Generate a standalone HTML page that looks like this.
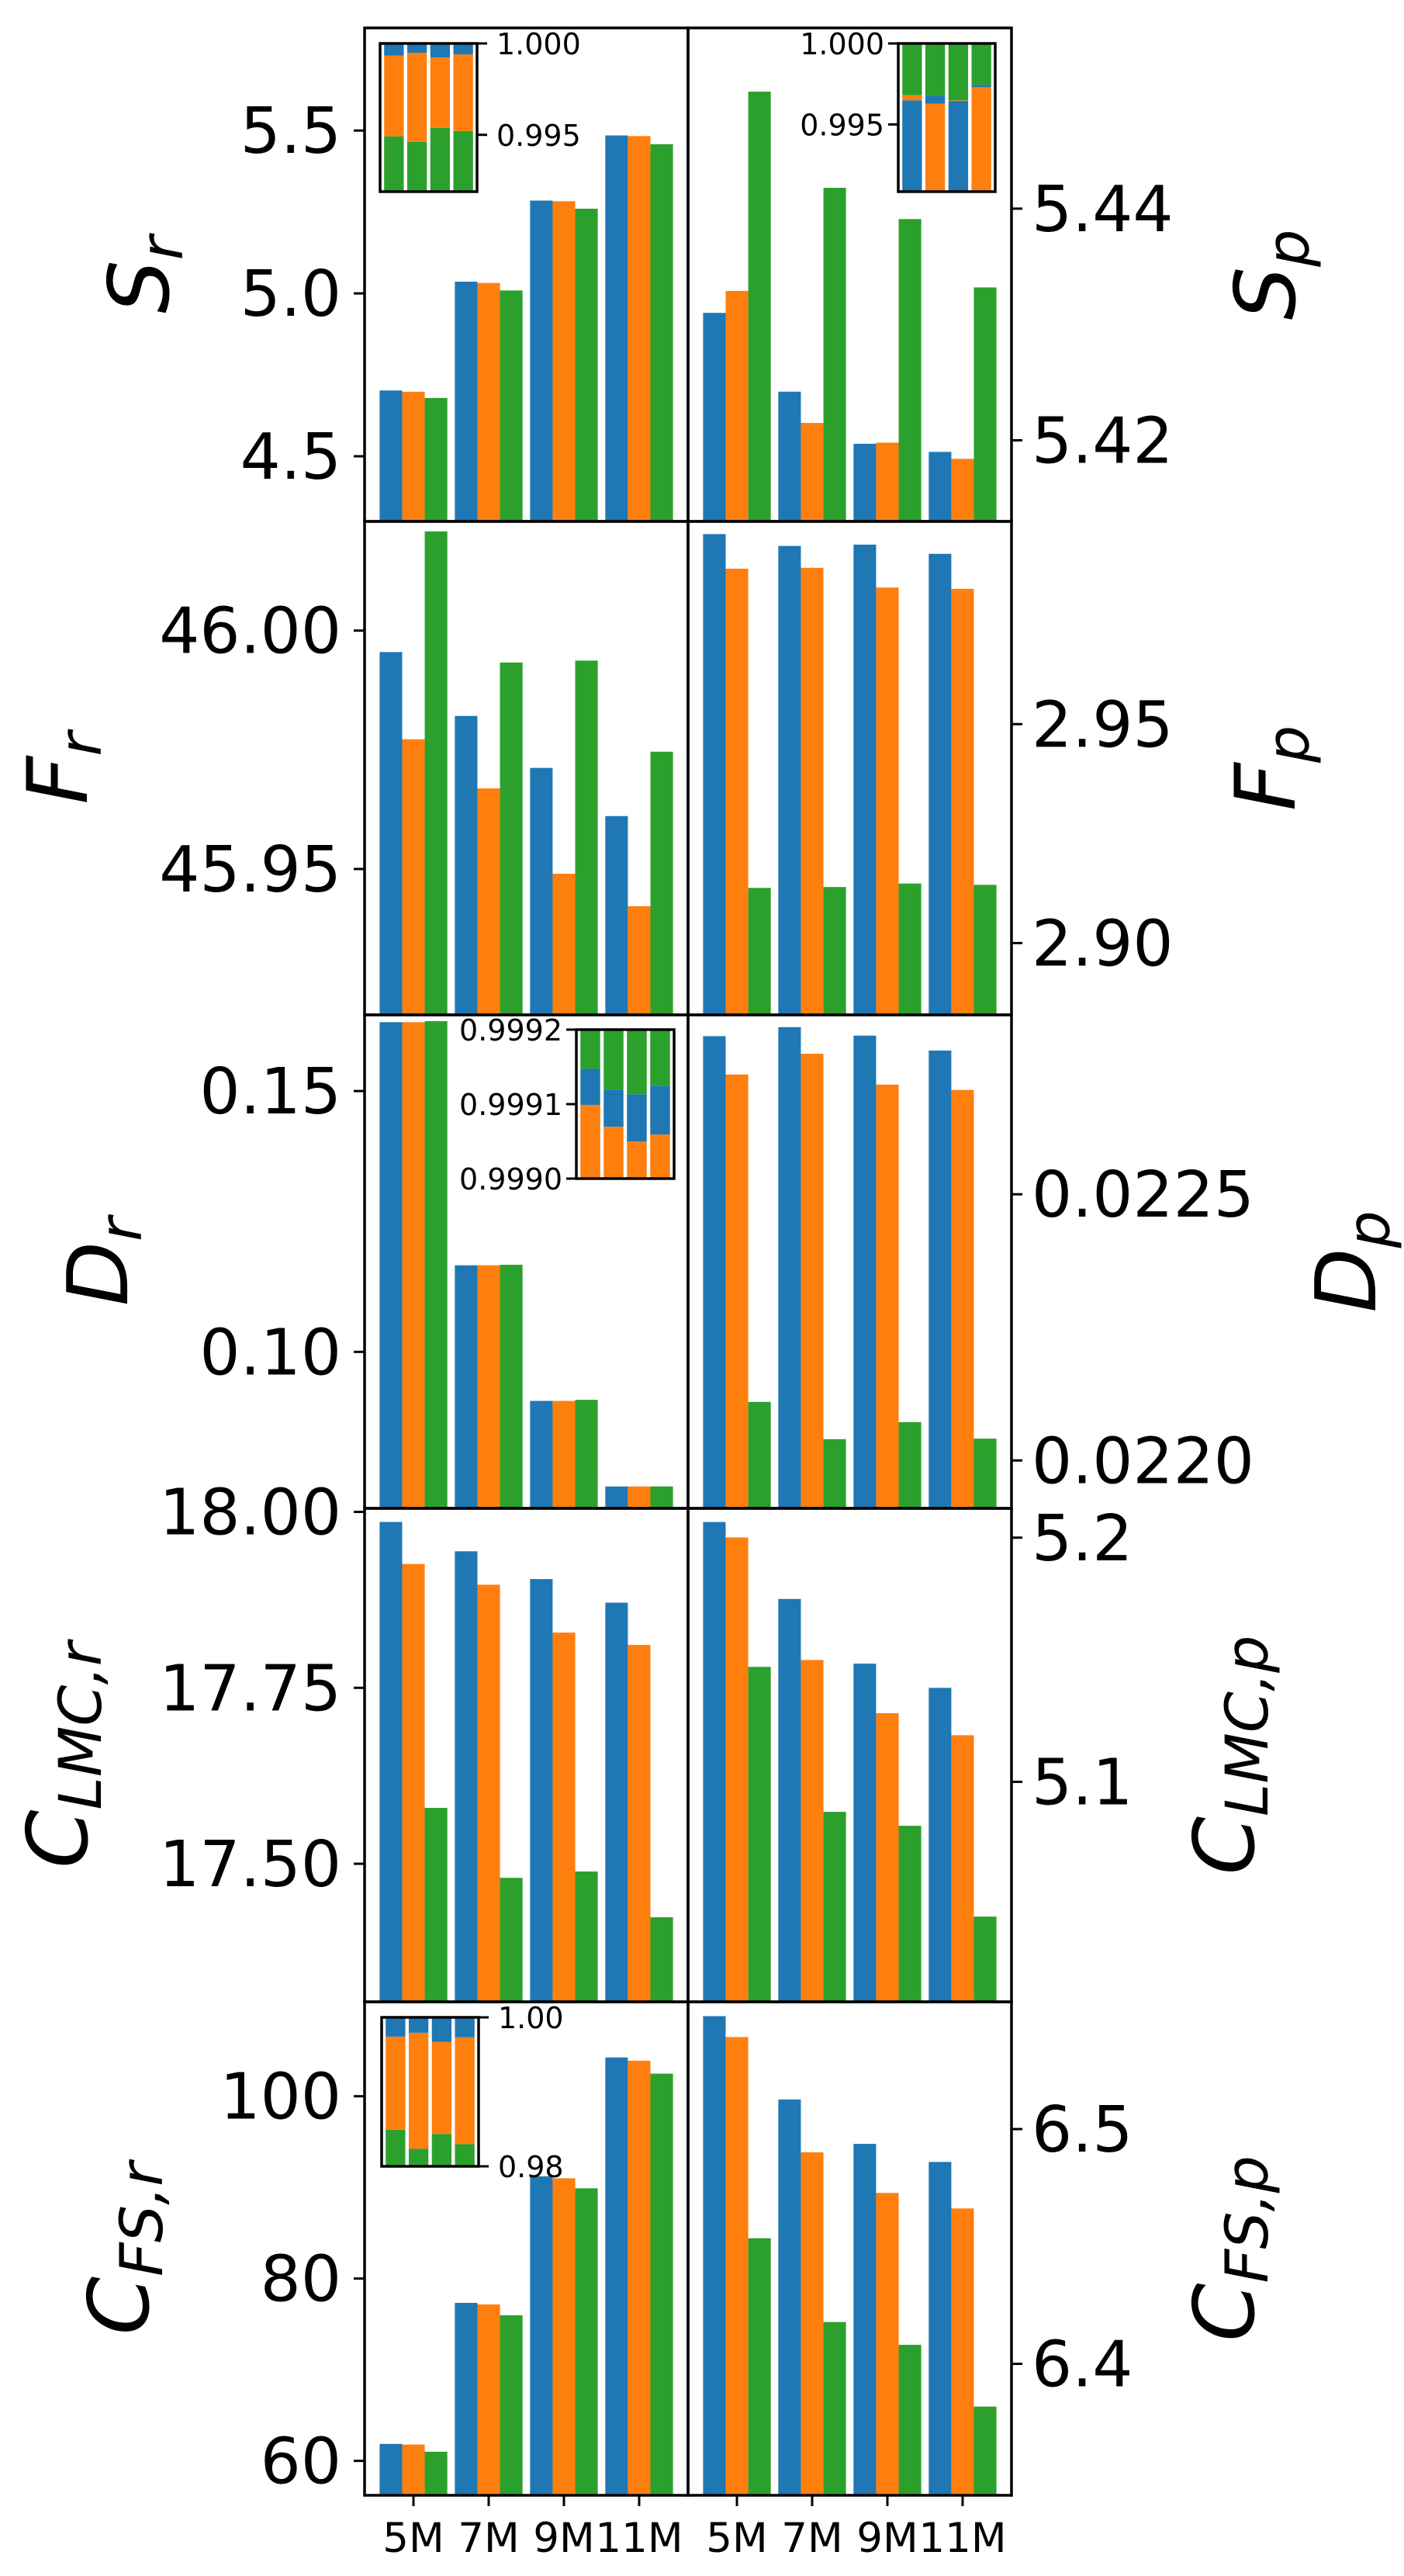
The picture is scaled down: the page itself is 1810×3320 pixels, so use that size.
<!DOCTYPE html>
<html><head><meta charset="utf-8"><style>
html,body{margin:0;padding:0;background:#fff;width:1810px;height:3320px;overflow:hidden;position:relative;}
svg{display:block;position:absolute;left:0;top:0;font-family:"DejaVu Sans","Liberation Sans",sans-serif;}
</style></head><body><svg id="fig" xmlns="http://www.w3.org/2000/svg" width="1810" height="3320" viewBox="0 0 1810 3320"><rect x="0" y="0" width="1810" height="3320" fill="#fff"/></svg><script>
const categories = ["5M","7M","9M","11M"];
const seriesColors = ["#1f77b4","#ff7f0e","#2ca02c"];
const srBlue=[4.702,5.036,5.285,5.485], srOrange=[4.698,5.032,5.283,5.483], srGreen=[4.679,5.009,5.260,5.458];
const spBlue=[5.4310,5.4242,5.4197,5.4190], spOrange=[5.4329,5.4215,5.4198,5.4184], spGreen=[5.4501,5.4418,5.4391,5.4332];
const frBlue=[45.9955,45.9821,45.9712,45.9611], frOrange=[45.9772,45.9669,45.9490,45.9422], frGreen=[46.0208,45.9933,45.9937,45.9746];
const fpBlue=[2.9934,2.9907,2.9910,2.9889], fpOrange=[2.9855,2.9857,2.9812,2.9809], fpGreen=[2.9126,2.9128,2.9136,2.9133];
const drBlue=[0.1632,0.1166,0.0906,0.0742], drOrange=[0.1632,0.1166,0.0906,0.0742], drGreen=[0.1634,0.1167,0.0908,0.0742];
const dpBlue=[0.022797,0.022814,0.022798,0.022770], dpOrange=[0.022725,0.022764,0.022706,0.022696], dpGreen=[0.022110,0.022040,0.022072,0.022041];
const clrBlue=[17.9857,17.944,17.9045,17.871], clrOrange=[17.926,17.8965,17.8285,17.811], clrGreen=[17.5794,17.480,17.489,17.424];
const clpBlue=[5.2064,5.1749,5.1484,5.1385], clpOrange=[5.2001,5.1499,5.1281,5.1191], clpGreen=[5.1471,5.0877,5.0820,5.0448];
const cfrBlue=[61.86,77.33,91.22,104.26], cfrOrange=[61.79,77.16,91.0,103.9], cfrGreen=[61.0,75.97,89.9,102.48];
const cfpBlue=[6.5481,6.5126,6.4937,6.4860], cfpOrange=[6.5392,6.4901,6.4728,6.4662], cfpGreen=[6.4535,6.4178,6.4081,6.3818];
const srTicks=[4.5,5.0,5.5], srTickLabels=["4.5","5.0","5.5"];
const spTicks=[5.42,5.44], spTickLabels=["5.42","5.44"];
const frTicks=[45.95,46.00], frTickLabels=["45.95","46.00"];
const fpTicks=[2.90,2.95], fpTickLabels=["2.90","2.95"];
const drTicks=[0.10,0.15], drTickLabels=["0.10","0.15"];
const dpTicks=[0.0220,0.0225], dpTickLabels=["0.0220","0.0225"];
const clrTicks=[17.50,17.75,18.00], clrTickLabels=["17.50","17.75","18.00"];
const clpTicks=[5.1,5.2], clpTickLabels=["5.1","5.2"];
const cfrTicks=[60,80,100], cfrTickLabels=["60","80","100"];
const cfpTicks=[6.4,6.5], cfpTickLabels=["6.4","6.5"];
const insSrBlue=[0.00066,0.00051,0.00077,0.0006], insSrOrange=[0.00442,0.00487,0.00385,0.00419], insSrGreen=[0.99492,0.99462,0.99538,0.99521];
const insSpBlue=[0.99649,0.00049,0.99645,0.00015], insSpOrange=[0.00032,0.99628,0.00004,0.9973], insSpGreen=[0.00319,0.00323,0.00351,0.00255];
const insDrBlue=[0.0000485,0.0000499,0.0000634,0.0000656], insDrOrange=[0.999099,0.9990696,0.9990499,0.9990591], insDrGreen=[0.0000525,0.0000805,0.0000867,0.0000753];
const insCfBlue=[0.00259,0.00207,0.0033,0.00268], insCfOrange=[0.01249,0.01556,0.01235,0.01433], insCfGreen=[0.98492,0.98237,0.98435,0.98299];

const NS="http://www.w3.org/2000/svg";
const svg=document.getElementById('fig');
function mk(tag,attrs,parent){const e=document.createElementNS(NS,tag);for(const k in attrs)e.setAttribute(k,attrs[k]);(parent||svg).appendChild(e);return e;}
const rowTops=[36,672,1308,1944,2580];
const AH=636, LX=470, MX=887, RX=1304, PW=417;
const XMIN=-0.65, XMAX=3.65;
function xScale(x0,v){return x0+(v-XMIN)/(XMAX-XMIN)*PW;}
let clipId=0;
function panel(name,x0,top,ylim,series,ticks,tickLabels,side){
  const g=mk('g',{});
  
  
  const y=v=>top+AH-(v-ylim[0])/(ylim[1]-ylim[0])*AH;
  const cid='c'+(clipId++);
  const cp=mk('clipPath',{id:cid},g);mk('rect',{x:x0,y:top,width:PW,height:AH},cp);
  const bg=mk('g',{'clip-path':'url(#'+cid+')'},g);
  series.forEach((vals,s)=>{vals.forEach((v,i)=>{
    const xl=xScale(x0,i+(s-1)*0.3-0.15), xr=xScale(x0,i+(s-1)*0.3+0.15);
    const yt=y(v);
    const r=mk('rect',{x:xl,y:yt,width:xr-xl,height:Math.max(0,top+AH-yt),fill:seriesColors[s]},bg);
    
    
  });});
  ticks.forEach((t,i)=>{
    const ty=y(t);
    if(side==='left'){
      mk('line',{x1:x0-14,x2:x0,y1:ty,y2:ty,stroke:'#000','stroke-width':3},g);
      const tx=mk('text',{x:x0-30,y:ty+29,'text-anchor':'end','font-size':82},g);tx.textContent=tickLabels[i];
      
      
    } else {
      mk('line',{x1:x0+PW,x2:x0+PW+14,y1:ty,y2:ty,stroke:'#000','stroke-width':3},g);
      const tx=mk('text',{x:x0+PW+26,y:ty+29,'text-anchor':'start','font-size':82},g);tx.textContent=tickLabels[i];
      
      
    }
  });
  return g;
}
function inset(name,x,yTop,w,h,ylim,colsArr,orders,ticks,tickLabels,side){
  const g=mk('g',{});
  
  
  mk('rect',{x:x,y:yTop,width:w,height:h,fill:'#fff'},g);
  const y=v=>yTop+h-(v-ylim[0])/(ylim[1]-ylim[0])*h;
  const cid='c'+(clipId++);
  const cp=mk('clipPath',{id:cid},g);mk('rect',{x:x,y:yTop,width:w,height:h},cp);
  const bg=mk('g',{'clip-path':'url(#'+cid+')'},g);
  const unit=w/4.2;
  for(let i=0;i<4;i++){
    let cum=0;
    orders[i].forEach(c=>{
      const v=colsArr[c][i];
      const y1=Math.min(y(cum),yTop+h), y2=y(cum+v);
      const bx=x+(i+0.6-0.425)*unit;
      const r=mk('rect',{x:bx,y:y2,width:0.85*unit,height:Math.max(0,y1-y2),fill:seriesColors[c]},bg);
      
      
      cum+=v;
    });
  }
  mk('rect',{x:x,y:yTop,width:w,height:h,fill:'none',stroke:'#000','stroke-width':3.5},g);
  ticks.forEach((t,i)=>{
    const ty=y(t);
    if(side==='right'){
      mk('line',{x1:x+w,x2:x+w+13,y1:ty,y2:ty,stroke:'#000','stroke-width':3},g);
      const tx=mk('text',{x:x+w+25,y:ty+14,'font-size':38},g);tx.textContent=tickLabels[i];
      
      
    } else {
      mk('line',{x1:x-13,x2:x,y1:ty,y2:ty,stroke:'#000','stroke-width':3},g);
      const tx=mk('text',{x:x-18,y:ty+14,'font-size':38,'text-anchor':'end'},g);tx.textContent=tickLabels[i];
      
      
    }
  });
}
function ylabel(name,base,sub,bx,cy){
  const t=mk('text',{transform:'translate('+bx+','+cy+') rotate(-90)','text-anchor':'middle','font-size':108,'font-style':'italic'});
  
  
  const a=mk('tspan',{},t);a.textContent=base;
  const b=mk('tspan',{'font-size':76,dy:18},t);b.textContent=sub;
}
const cy=i=>rowTops[i]+AH/2;
panel('s-r',LX,rowTops[0],[4.30,5.815],[srBlue,srOrange,srGreen],srTicks,srTickLabels,'left');
panel('s-p',MX,rowTops[0],[5.413,5.4556],[spBlue,spOrange,spGreen],spTicks,spTickLabels,'right');
panel('f-r',LX,rowTops[1],[45.9194,46.0229],[frBlue,frOrange,frGreen],frTicks,frTickLabels,'left');
panel('f-p',MX,rowTops[1],[2.8836,2.9963],[fpBlue,fpOrange,fpGreen],fpTicks,fpTickLabels,'right');
panel('d-r',LX,rowTops[2],[0.0700,0.1646],[drBlue,drOrange,drGreen],drTicks,drTickLabels,'left');
panel('d-p',MX,rowTops[2],[0.021910,0.022837],[dpBlue,dpOrange,dpGreen],dpTicks,dpTickLabels,'right');
panel('clmc-r',LX,rowTops[3],[17.3038,18.005],[clrBlue,clrOrange,clrGreen],clrTicks,clrTickLabels,'left');
panel('clmc-p',MX,rowTops[3],[5.0099,5.212],[clpBlue,clpOrange,clpGreen],clpTicks,clpTickLabels,'right');
panel('cfs-r',LX,rowTops[4],[56.22,110.36],[cfrBlue,cfrOrange,cfrGreen],cfrTicks,cfrTickLabels,'left');
panel('cfs-p',MX,rowTops[4],[6.344,6.5542],[cfpBlue,cfpOrange,cfpGreen],cfpTicks,cfpTickLabels,'right');

for(let r=0;r<5;r++){
  const f1=mk('rect',{x:LX,y:rowTops[r],width:PW,height:AH,fill:'none',stroke:'#000','stroke-width':3.5});
  
  
  const f2=mk('rect',{x:MX,y:rowTops[r],width:PW,height:AH,fill:'none',stroke:'#000','stroke-width':3.5});
  
  
}
const bottom=rowTops[4]+AH;
[LX,MX].forEach(x0=>{categories.forEach((c,i)=>{
  const xc=xScale(x0,i);
  mk('line',{x1:xc,x2:xc,y1:bottom,y2:bottom+14,stroke:'#000','stroke-width':3});
  const t=mk('text',{x:xc,y:3289,'text-anchor':'middle','font-size':53});t.textContent=c;
  
  
});});

inset('s-r-inset',490,56,125,191,[0.99189,1.0],[insSrBlue,insSrOrange,insSrGreen],[[2,1,0],[2,1,0],[2,1,0],[2,1,0]],[1.0,0.995],["1.000","0.995"],'right');
inset('s-p-inset',1158,56,125,191,[0.99085,1.0],[insSpBlue,insSpOrange,insSpGreen],[[0,1,2],[1,0,2],[0,1,2],[1,0,2]],[1.0,0.995],["1.000","0.995"],'left');
inset('d-r-inset',743,1327,126,192,[0.9990,0.9992],[insDrBlue,insDrOrange,insDrGreen],[[1,0,2],[1,0,2],[1,0,2],[1,0,2]],[0.9992,0.9991,0.9990],["0.9992","0.9991","0.9990"],'left');
inset('cfs-r-inset',492,2600,125,192,[0.98,1.0],[insCfBlue,insCfOrange,insCfGreen],[[2,1,0],[2,1,0],[2,1,0],[2,1,0]],[1.0,0.98],["1.00","0.98"],'right');

ylabel('s-r-label','S','r',217,cy(0));
ylabel('f-r-label','F','r',112,cy(1));
ylabel('d-r-label','D','r',164,cy(2));
ylabel('clmc-r-label','C','LMC,r',112,cy(3));
ylabel('cfs-r-label','C','FS,r',191,cy(4));
ylabel('s-p-label','S','p',1669,cy(0));
ylabel('f-p-label','F','p',1669,cy(1));
ylabel('d-p-label','D','p',1773,cy(2));
ylabel('clmc-p-label','C','LMC,p',1616,cy(3));
ylabel('cfs-p-label','C','FS,p',1616,cy(4));
</script></body></html>
